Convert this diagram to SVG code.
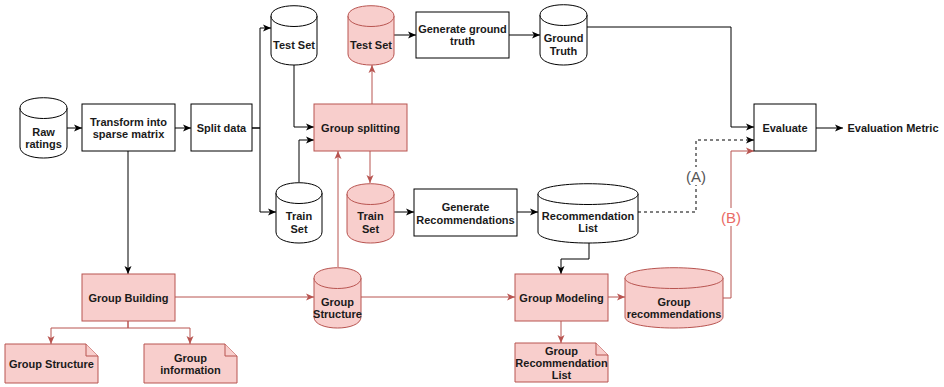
<svg xmlns="http://www.w3.org/2000/svg" width="944" height="387" viewBox="0 0 944 387">
<defs>
<marker id="ab" markerUnits="userSpaceOnUse" markerWidth="9" markerHeight="8" refX="8" refY="4" orient="auto"><path d="M0,0.5 L8,4 L0,7.5 L2,4 Z" fill="#000"/></marker>
<marker id="ar" markerUnits="userSpaceOnUse" markerWidth="9" markerHeight="8" refX="8" refY="4" orient="auto"><path d="M0,0.5 L8,4 L0,7.5 L2,4 Z" fill="#b85450"/></marker>
<style>
.w{fill:#fff;stroke:#000;stroke-width:1}
.p{fill:#f8cecc;stroke:#b85450;stroke-width:1}
.t{font-family:"Liberation Sans",Arial,sans-serif;font-size:11px;font-weight:bold;fill:#1a1a1a;text-anchor:middle;dominant-baseline:central}
.cb{fill:none;stroke:#000;stroke-width:1;marker-end:url(#ab)}
.cr{fill:none;stroke:#b85450;stroke-width:1;marker-end:url(#ar)}
.lbl{font-family:"Liberation Sans",Arial,sans-serif;font-size:15px;text-anchor:middle;dominant-baseline:central}
</style>
</defs>
<rect width="944" height="387" fill="#fff"/>
<g id="connectors">
<path class="cb" d="M67,128 H82"/>
<path class="cb" d="M175,128 H191"/>
<path class="cb" d="M252,128 H260 V28 H271"/>
<path class="cb" d="M252,128 H260 V212 H276"/>
<path class="cb" d="M294,65 V127 H314"/>
<path class="cb" d="M299,182 V140 H314"/>
<path class="cb" d="M394,35 H416"/>
<path class="cb" d="M509,35 H540"/>
<path class="cb" d="M587,27 H731 V127 H754"/>
<path class="cb" d="M394,212 H414"/>
<path class="cb" d="M517,212 H538"/>
<path class="cb" d="M638,212 H696 V140 H754" stroke-dasharray="3,3"/>
<path class="cb" d="M589,243 V259 H561 V274"/>
<path class="cb" d="M816,128 H843"/>
<path class="cb" d="M128,151 V274"/>
<path class="cr" d="M372,104 V65"/>
<path class="cr" d="M370,151 V183"/>
<path class="cr" d="M338,267 V151"/>
<path class="cr" d="M175,297 H314"/>
<path class="cr" d="M361,297 H515"/>
<path class="cr" d="M608,297 H625"/>
<path class="cr" d="M723,298 H731 V151 H754"/>
<path class="cr" d="M561,321 V343"/>
<path class="cr" d="M128,321 V328 H51 V344"/>
<path class="cr" d="M128,321 V328 H190 V344"/>
<rect x="685" y="167" width="22" height="18" fill="#fff"/>
<text class="lbl" x="696" y="176" fill="#555">(A)</text>
<rect x="720" y="208" width="22" height="18" fill="#fff"/>
<text class="lbl" x="731" y="217" fill="#ea6b66">(B)</text>
</g>
<g id="raw-ratings">
<path class="w" d="M20,108 C20,94.3 67,94.3 67,108 L67,147 C67,161.7 20,161.7 20,147 Z"/>
<path class="w" fill="none" d="M20,108 C20,122 67,122 67,108"/>
<text class="t" x="43.5" y="132">Raw</text><text class="t" x="43.5" y="144">ratings</text>
</g>
<g id="transform">
<rect class="w" x="82" y="104" width="93" height="47"/>
<text class="t" x="128.5" y="122">Transform into</text><text class="t" x="128.5" y="134">sparse matrix</text>
</g>
<g id="split-data">
<rect class="w" x="191" y="104" width="61" height="47"/>
<text class="t" x="221.5" y="128">Split data</text>
</g>
<g id="test-set">
<path class="w" d="M271,16 C271,2.3 317,2.3 317,16 L317,54 C317,68.7 271,68.7 271,54 Z"/>
<path class="w" fill="none" d="M271,16 C271,30 317,30 317,16"/>
<text class="t" x="294" y="45">Test Set</text>
</g>
<g id="group-test-set">
<path class="p" d="M348,16 C348,2.3 394,2.3 394,16 L394,54 C394,68.7 348,68.7 348,54 Z"/>
<path class="p" fill="none" d="M348,16 C348,30 394,30 394,16"/>
<text class="t" x="371" y="45">Test Set</text>
</g>
<g id="generate-ground-truth">
<rect class="w" x="416" y="12" width="93" height="46"/>
<text class="t" x="462.5" y="29">Generate ground</text><text class="t" x="462.5" y="41">truth</text>
</g>
<g id="ground-truth">
<path class="w" d="M540,15 C540,1.3 587,1.3 587,15 L587,54 C587,68.7 540,68.7 540,54 Z"/>
<path class="w" fill="none" d="M540,15 C540,29 587,29 587,15"/>
<text class="t" x="563.5" y="38">Ground</text><text class="t" x="563.5" y="51">Truth</text>
</g>
<g id="group-splitting">
<rect class="p" x="314" y="104" width="93" height="47"/>
<text class="t" x="360.5" y="128">Group splitting</text>
</g>
<g id="train-set">
<path class="w" d="M276,193 C276,179.3 322,179.3 322,193 L322,232 C322,246.7 276,246.7 276,232 Z"/>
<path class="w" fill="none" d="M276,193 C276,207 322,207 322,193"/>
<text class="t" x="299" y="216">Train</text><text class="t" x="299" y="229">Set</text>
</g>
<g id="group-train-set">
<path class="p" d="M347,194 C347,180.3 394,180.3 394,194 L394,232 C394,246.7 347,246.7 347,232 Z"/>
<path class="p" fill="none" d="M347,194 C347,208 394,208 394,194"/>
<text class="t" x="370.5" y="216">Train</text><text class="t" x="370.5" y="229">Set</text>
</g>
<g id="generate-recommendations">
<rect class="w" x="414" y="189" width="103" height="47"/>
<text class="t" x="465.5" y="207">Generate</text><text class="t" x="465.5" y="220">Recommendations</text>
</g>
<g id="recommendation-list">
<path class="w" d="M538,194 C538,180.3 638,180.3 638,194 L638,232 C638,246.7 538,246.7 538,232 Z"/>
<path class="w" fill="none" d="M538,194 C538,208 638,208 638,194"/>
<text class="t" x="588" y="216">Recommendation</text><text class="t" x="588" y="228">List</text>
</g>
<g id="evaluate">
<rect class="w" x="754" y="104" width="62" height="47"/>
<text class="t" x="785" y="128">Evaluate</text>
</g>
<g id="evaluation-metric">
<text class="t" x="893" y="128">Evaluation Metric</text>
</g>
<g id="group-building">
<rect class="p" x="82" y="274" width="93" height="47"/>
<text class="t" x="128.5" y="298">Group Building</text>
</g>
<g id="group-structure-db">
<path class="p" d="M314,278 C314,264.3 361,264.3 361,278 L361,317 C361,331.7 314,331.7 314,317 Z"/>
<path class="p" fill="none" d="M314,278 C314,292 361,292 361,278"/>
<text class="t" x="337.5" y="302">Group</text><text class="t" x="337.5" y="314">Structure</text>
</g>
<g id="group-modeling">
<rect class="p" x="515" y="274" width="93" height="47"/>
<text class="t" x="561.5" y="298">Group Modeling</text>
</g>
<g id="group-recommendations">
<path class="p" d="M625,278 C625,264.3 723,264.3 723,278 L723,317 C723,331.7 625,331.7 625,317 Z"/>
<path class="p" fill="none" d="M625,278 C625,292 723,292 723,278"/>
<text class="t" x="674" y="302">Group</text><text class="t" x="674" y="314">recommendations</text>
</g>
<g id="group-structure-note">
<path class="p" d="M5,344 H86 L98,356 V383 H5 Z"/>
<path class="p" fill="none" d="M86,344 V356 H98"/>
<text class="t" x="51.5" y="364">Group Structure</text>
</g>
<g id="group-information-note">
<path class="p" d="M144,344 H225 L237,356 V383 H144 Z"/>
<path class="p" fill="none" d="M225,344 V356 H237"/>
<text class="t" x="190.5" y="358">Group</text><text class="t" x="190.5" y="370">information</text>
</g>
<g id="group-recommendation-list-note">
<path class="p" d="M515,343 H596 L608,355 V382 H515 Z"/>
<path class="p" fill="none" d="M596,343 V355 H608"/>
<text class="t" x="561.5" y="351">Group</text><text class="t" x="561.5" y="363">Recommendation</text><text class="t" x="561.5" y="375">List</text>
</g>
</svg>
